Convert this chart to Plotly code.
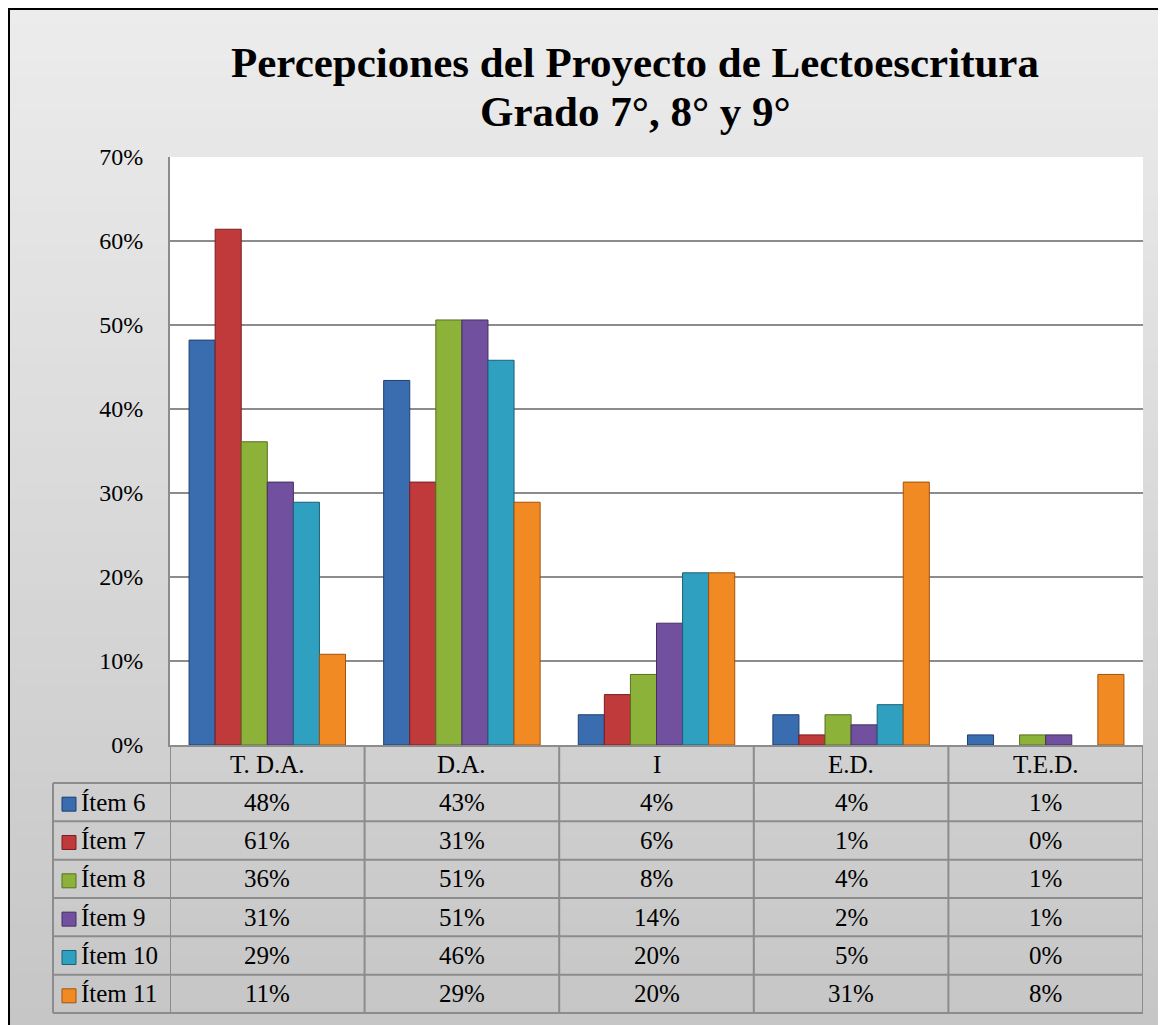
import plotly.graph_objects as go

# ---------------- data ----------------
categories = ["T. D.A.", "D.A.", "I", "E.D.", "T.E.D."]
series_names = ["Ítem 6", "Ítem 7", "Ítem 8", "Ítem 9", "Ítem 10", "Ítem 11"]
item6 = [48.2, 43.4, 3.6, 3.6, 1.2]
item7 = [61.4, 31.3, 6.0, 1.2, 0.0]
item8 = [36.1, 50.6, 8.4, 3.6, 1.2]
item9 = [31.3, 50.6, 14.5, 2.4, 1.2]
item10 = [28.9, 45.8, 20.5, 4.8, 0.0]
item11 = [10.8, 28.9, 20.5, 31.3, 8.4]
series_values = [item6, item7, item8, item9, item10, item11]
y_ticks = [0, 10, 20, 30, 40, 50, 60, 70]
title_lines = ["Percepciones del Proyecto de Lectoescritura", "Grado 7°, 8° y 9°"]

# ---------------- style ----------------
colors = ["#3a6db0", "#c0393b", "#8db23a", "#7250a0", "#2fa0bf", "#f28a24"]
edges = ["#1f3f6e", "#7a1f1f", "#56701f", "#44305f", "#1b6076", "#a0520e"]
FONT = "Liberation Serif, Times New Roman, serif"
OFF = 8  # page body margin
SW, SH = 1166, 1025  # screen size
W, H = SW - OFF, SH - OFF
# plot area in screen pixels
PL, PR, PT, PB = 170, 1143, 157, 745
L, R, T, B = PL - OFF, SW - PR, PT - OFF, SH - PB
PW, PH = PR - PL, PB - PT
GRID = "#8c8c8c"
TXT = 25


def px(x):  # screen x -> paper
    return (x - PL) / PW


def py(y):  # screen y -> paper
    return (PB - y) / PH


fig = go.Figure()
for name, vals, c, e in zip(series_names, series_values, colors, edges):
    fig.add_trace(go.Bar(
        x=categories, y=[v / 100 for v in vals], name=name,
        marker=dict(color=c, line=dict(color=e, width=[1 if v > 0 else 0 for v in vals])),
        hovertemplate="%{x}: %{y:.1%}<extra>" + name + "</extra>",
    ))

shapes = []
# background gradient bands
n_bands = 60
for i in range(n_bands):
    t = i / (n_bands - 1)
    g = int(round(236 - t * (236 - 198)))
    y0 = OFF + i * H / n_bands
    shapes.append(dict(type="rect", xref="paper", yref="paper",
                       x0=px(0), x1=px(SW + 5),
                       y0=py(y0), y1=py(y0 + H / n_bands + 1),
                       fillcolor=f"rgb({g},{g},{g})", line=dict(width=0), layer="below"))
# white plot area
shapes.append(dict(type="rect", xref="x", yref="y", x0=-0.5, x1=len(categories) - 0.5,
                   y0=0, y1=0.7, fillcolor="white", line=dict(width=0), layer="below"))
# outer border (left and top edges visible)
shapes.append(dict(type="rect", xref="paper", yref="paper", x0=px(OFF + 1), x1=px(SW + 40),
                   y0=py(OFF + 1), y1=py(SH + 40), line=dict(color="black", width=2),
                   fillcolor="rgba(0,0,0,0)", layer="above"))

# data table grid
header_top, header_bot = PB, PB + 38
row_h = 38.33
n_rows = len(series_names)
table_bot = header_bot + row_h * n_rows
left_col = 53
line = dict(color=GRID, width=2)
for k in range(n_rows + 1):
    yy = header_bot + row_h * k
    shapes.append(dict(type="line", xref="paper", yref="paper", x0=px(left_col), x1=1,
                       y0=py(yy), y1=py(yy), line=line))
shapes.append(dict(type="line", xref="paper", yref="paper", x0=px(left_col), x1=px(left_col),
                   y0=py(header_bot), y1=py(table_bot), line=line))
for i in range(len(categories) + 1):
    shapes.append(dict(type="line", xref="x", yref="paper", x0=i - 0.5, x1=i - 0.5,
                       y0=py(header_top), y1=py(table_bot), line=line))

annotations = []
# title
annotations.append(dict(text="<b>" + title_lines[0] + "</b>", xref="paper", yref="paper",
                        x=px(635), y=py(63), xanchor="center", yanchor="middle",
                        showarrow=False, font=dict(family=FONT, size=43, color="black")))
annotations.append(dict(text="<b>" + title_lines[1] + "</b>", xref="paper", yref="paper",
                        x=px(635), y=py(111), xanchor="center", yanchor="middle",
                        showarrow=False, font=dict(family=FONT, size=43, color="black")))
# header row
for c in categories:
    annotations.append(dict(text=c, xref="x", yref="paper", x=c, y=py((header_top + header_bot) / 2),
                            xanchor="center", yanchor="middle", showarrow=False,
                            font=dict(family=FONT, size=TXT, color="black")))
# rows
for k, (name, vals, col) in enumerate(zip(series_names, series_values, colors)):
    yc = header_bot + row_h * (k + 0.5)
    shapes.append(dict(type="rect", xref="paper", yref="paper", x0=px(62), x1=px(76),
                       y0=py(yc - 5), y1=py(yc + 9), fillcolor=col,
                       line=dict(color=edges[k], width=1)))
    annotations.append(dict(text=name, xref="paper", yref="paper", x=px(79), y=py(yc),
                            xanchor="left", yanchor="middle", showarrow=False,
                            font=dict(family=FONT, size=TXT, color="black")))
    for c, v in zip(categories, vals):
        annotations.append(dict(text=f"{v:.0f}%", xref="x", yref="paper", x=c, y=py(yc),
                                xanchor="center", yanchor="middle", showarrow=False,
                                font=dict(family=FONT, size=TXT, color="black")))

fig.update_layout(
    width=W, height=H,
    margin=dict(l=L, r=R, t=T, b=B),
    paper_bgcolor="#e0e0e0", plot_bgcolor="rgba(0,0,0,0)",
    barmode="group", bargap=0.196, bargroupgap=0,
    showlegend=False,
    shapes=shapes, annotations=annotations,
    font=dict(family=FONT, size=TXT, color="black"),
    xaxis=dict(showticklabels=False, showgrid=False, showline=True, linecolor=GRID,
               linewidth=2, ticks="", range=[-0.5, len(categories) - 0.5]),
    yaxis=dict(range=[0, 0.7], tickvals=[v / 100 for v in y_ticks],
               ticktext=[f"{v}%" for v in y_ticks], showgrid=True, gridcolor=GRID,
               gridwidth=2, showline=True, linecolor=GRID, linewidth=2, ticks="",
               ticklabelstandoff=20, zeroline=False,
               tickfont=dict(family=FONT, size=24, color="black")),
)

fig.write_html("out.html")
